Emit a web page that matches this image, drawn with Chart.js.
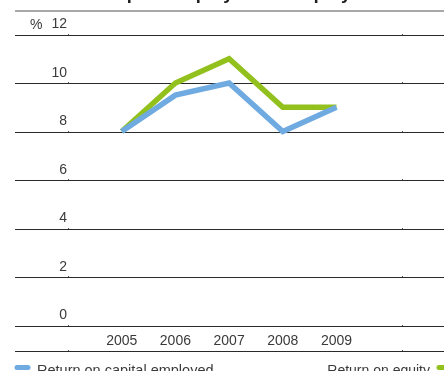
<!DOCTYPE html>
<html>
<head>
<meta charset="utf-8">
<script src="https://cdn.jsdelivr.net/npm/chart.js@4/dist/chart.umd.min.js"></script>
<style>
  html, body { margin: 0; padding: 0; background: #fff; }
  #wrap { width: 444px; height: 371px; }
</style>
</head>
<body>
<div id="wrap"><canvas id="chart" width="444" height="371"></canvas></div>
<script>
const years = [2005, 2006, 2007, 2008, 2009];
const roce = [8, 9.5, 10, 8, 9];
const roe = [8, 10, 11, 9, 9];
const yTicks = [0, 2, 4, 6, 8, 10, 12];
const seriesNames = ["Return on capital employed", "Return on equity"];
const titleText = "Return on capital employed and equity";

const BLUE = "#6faae0";
const GREEN = "#92c11e";
const TEXT = "#3a3a3a";
const FONT = "Liberation Sans, Arial, sans-serif";

const toPoints = vals => vals.map((v, i) => ({ x: years[i], y: v }));

// horizontal rules run across the whole page, not just the plot area
const rulesPlugin = {
  id: "rules",
  beforeDraw(chart) {
    const { ctx, chartArea, scales } = chart;
    const W = chart.width;
    const rows = yTicks.map(t => Math.round(scales.y.getPixelForValue(t)) + 0.5);
    const yb = Math.round(chartArea.bottom + 25) + 0.5;
    ctx.save();
    ctx.lineWidth = 1;
    ctx.strokeStyle = "#2a2a2a";
    rows.concat([yb]).forEach(y => {
      ctx.beginPath();
      ctx.moveTo(15, y);
      ctx.lineTo(W, y);
      ctx.stroke();
      // tiny notches where the plot area starts and ends
      [chartArea.left, chartArea.right].forEach(x => {
        ctx.fillStyle = "#555";
        ctx.fillRect(Math.round(x), y - 1.5, 1, 1);
      });
    });
    // rule under the heading
    ctx.strokeStyle = "#a8a8a8";
    ctx.lineWidth = 2;
    ctx.beginPath();
    ctx.moveTo(15, 11);
    ctx.lineTo(W, 11);
    ctx.stroke();
    ctx.restore();
  },
  afterDraw(chart) {
    const { ctx, scales } = chart;
    ctx.save();
    // heading, mostly above the page edge
    ctx.fillStyle = "#1e1e1e";
    ctx.font = "bold 18.3px " + FONT;
    ctx.textAlign = "left";
    ctx.textBaseline = "alphabetic";
    ctx.fillText(titleText, 15, -0.8);

    // unit marker next to the top tick
    ctx.fillStyle = TEXT;
    ctx.font = "14px " + FONT;
    ctx.textBaseline = "middle";
    ctx.fillText("%", 30, scales.y.getPixelForValue(12) - 9.5);

    // legend: left and right ends of the bottom line
    const ly = 367.5;
    const sets = chart.data.datasets;
    ctx.lineCap = "round";
    ctx.lineWidth = 5;
    ctx.strokeStyle = sets[0].borderColor;
    ctx.beginPath();
    ctx.moveTo(17, ly);
    ctx.lineTo(28, ly);
    ctx.stroke();
    ctx.textBaseline = "alphabetic";
    ctx.font = "14.5px " + FONT;
    ctx.fillText(sets[0].label, 37, 374.5);

    ctx.font = "14px " + FONT;
    ctx.textAlign = "right";
    ctx.fillText(sets[1].label, 430, 374.5);
    ctx.strokeStyle = sets[1].borderColor;
    ctx.beginPath();
    ctx.moveTo(439, ly);
    ctx.lineTo(450, ly);
    ctx.stroke();
    ctx.restore();
  }
};

new Chart(document.getElementById("chart"), {
  type: "line",
  data: {
    datasets: [
      {
        label: seriesNames[0],
        data: toPoints(roce),
        borderColor: BLUE,
        borderWidth: 5.5,
        pointRadius: 0,
        tension: 0,
        borderJoinStyle: "miter",
        borderCapStyle: "butt"
      },
      {
        label: seriesNames[1],
        data: toPoints(roe),
        borderColor: GREEN,
        borderWidth: 5.5,
        pointRadius: 0,
        tension: 0,
        borderJoinStyle: "miter",
        borderCapStyle: "butt"
      }
    ]
  },
  options: {
    responsive: false,
    animation: false,
    events: [],
    layout: { padding: { top: 34.5, right: 42, bottom: 20, left: 0 } },
    plugins: {
      legend: { display: false },
      tooltip: { enabled: false }
    },
    scales: {
      x: {
        type: "linear",
        min: 2004,
        max: 2010.22,
        grid: { display: false, drawTicks: false },
        border: { display: false },
        afterBuildTicks(scale) {
          scale.ticks = years.map(v => ({ value: v }));
        },
        afterFit(scale) { scale.height = 25.5; },
        ticks: {
          color: TEXT,
          font: { family: FONT, size: 14 },
          padding: 7,
          maxRotation: 0,
          autoSkip: false,
          callback: v => String(v)
        }
      },
      y: {
        min: 0,
        max: 12,
        grid: { display: false, drawTicks: false },
        border: { display: false },
        afterBuildTicks(scale) {
          scale.ticks = yTicks.map(v => ({ value: v }));
        },
        afterFit(scale) { scale.width = 68; },
        ticks: {
          color: TEXT,
          font: { family: FONT, size: 14 },
          padding: 1,
          labelOffset: -10
        }
      }
    }
  },
  plugins: [rulesPlugin]
});
</script>
</body>
</html>
